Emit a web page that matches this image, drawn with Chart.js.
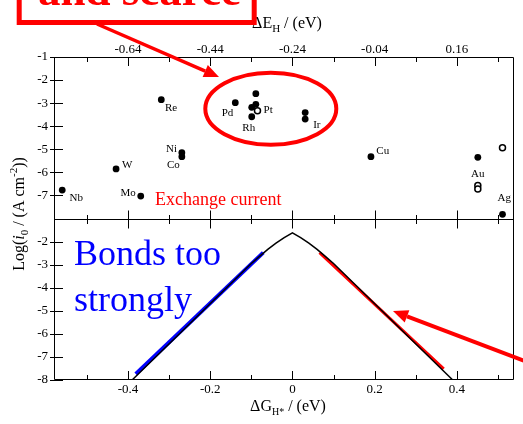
<!DOCTYPE html>
<html><head><meta charset="utf-8">
<script src="https://cdn.jsdelivr.net/npm/chart.js@4.4.1/dist/chart.umd.min.js"></script>
<style>html,body{margin:0;padding:0;background:#fff;}#c{display:block;}</style>
</head><body>
<canvas id="c" width="523" height="424"></canvas>
<script>
// ---- data ----
const metalNames = ['Nb','W','Mo','Re','Ni','Co','Pd','','Pt','','Rh','','Ir','Cu','Au','Ag'];
const filledDE   = [-0.80,-0.669,-0.609,-0.559,-0.509,-0.509,-0.379,-0.329,-0.329,-0.339,-0.339,-0.209,-0.209,-0.049,0.211,0.271];
const filledLogI = [-6.77,-5.85,-7.03,-2.85,-5.15,-5.32,-2.98,-2.59,-3.05,-3.18,-3.59,-3.41,-3.69,-5.32,-5.35,-7.82];
const openDE     = [-0.325,0.211,0.211,0.271];
const openLogI   = [-3.33,-6.57,-6.72,-4.93];
const volcanoDG   = [-0.39,-0.1,-0.08,-0.06,-0.04,-0.02,0,0.02,0.04,0.06,0.08,0.1,0.39];
const volcanoLogI = [-8,-2.95,-2.64,-2.34,-2.07,-1.83,-1.62,-1.83,-2.07,-2.34,-2.64,-2.95,-8];
const strongDG   = [-0.381,-0.071];
const strongLogI = [-7.74,-2.48];
const weakDG     = [0.066,0.368];
const weakLogI   = [-2.48,-7.52];
const topTicks    = [-0.64,-0.44,-0.24,-0.04,0.16];
const topMinor    = [-0.74,-0.54,-0.34,-0.14,0.06,0.26];
const bottomTicks = [-0.4,-0.2,0,0.2,0.4];
const bottomMinor = [-0.5,-0.3,-0.1,0.1,0.3,0.5];
const yTopTicks = [-1,-2,-3,-4,-5,-6,-7];
const yBotTicks = [-2,-3,-4,-5,-6,-7,-8];

const zip = (xs, ys) => xs.map((x,i)=>({x:x, y:ys[i]}));
const SERIF = '"Liberation Serif","Times New Roman",serif';

const labelOffsets = {Nb:[14,7.5],W:[11,-3.5],Mo:[-12.7,-2.7],Re:[9.7,8.3],Ni:[-10.4,-3.7],Co:[-8.4,8.8],
  Pd:[-7.8,10.6],Pt:[12.3,6],Rh:[-3,11.6],Ir:[11.7,6.3],Cu:[11.8,-6],Au:[0,16.4],Ag:[1.7,-16.5]};

function richText(ctx, x, y, parts) {
  let cx = x;
  for (const p of parts) {
    ctx.font = p.font;
    ctx.fillText(p.t, cx, y + (p.dy||0));
    cx += ctx.measureText(p.t).width;
  }
  return cx - x;
}
function richWidth(ctx, parts){ let w=0; for(const p of parts){ctx.font=p.font; w+=ctx.measureText(p.t).width;} return w; }

function arrow(ctx, x1,y1,x2,y2,lw,hl,hw,color){
  const a = Math.atan2(y2-y1,x2-x1);
  const bx = x2 - hl*Math.cos(a), by = y2 - hl*Math.sin(a);
  ctx.save();
  ctx.strokeStyle=color; ctx.fillStyle=color; ctx.lineWidth=lw;
  ctx.beginPath(); ctx.moveTo(x1,y1); ctx.lineTo(bx,by); ctx.stroke();
  ctx.beginPath(); ctx.moveTo(x2,y2);
  ctx.lineTo(bx + hw/2*Math.sin(a), by - hw/2*Math.cos(a));
  ctx.lineTo(bx - hw/2*Math.sin(a), by + hw/2*Math.cos(a));
  ctx.closePath(); ctx.fill();
  ctx.restore();
}

const framePlugin = {
  id: 'frame',
  afterDatasetsDraw(chart) {
    const ctx = chart.ctx, ca = chart.chartArea, s = chart.scales;
    const midY = s.yTop.getPixelForValue(-8);
    ctx.save();
    ctx.strokeStyle = '#000'; ctx.lineWidth = 1;
    ctx.beginPath();
    ctx.rect(ca.left+0.5, ca.top+0.5, ca.right-ca.left-1, ca.bottom-ca.top-1);
    ctx.moveTo(ca.left, Math.round(midY)+0.5); ctx.lineTo(ca.right, Math.round(midY)+0.5);
    ctx.stroke();
    const tick = (px, y0, dir, len) => { ctx.beginPath(); ctx.moveTo(Math.round(px)+0.5, y0); ctx.lineTo(Math.round(px)+0.5, y0+dir*len); ctx.stroke(); };
    const my = Math.round(midY)+0.5;
    topTicks.forEach(v => { const p=s.xTop.getPixelForValue(v); tick(p, ca.top, 1, 9); tick(p, my, -1, 9); });
    topMinor.forEach(v => { const p=s.xTop.getPixelForValue(v); tick(p, ca.top, 1, 5); tick(p, my, -1, 4.5); });
    bottomTicks.forEach(v => { const p=s.x.getPixelForValue(v); tick(p, ca.bottom, -1, 9); tick(p, my, 1, 9); });
    bottomMinor.forEach(v => { const p=s.x.getPixelForValue(v); tick(p, ca.bottom, -1, 5); tick(p, my, 1, 4.5); });
    const ytick = (py) => { ctx.beginPath(); ctx.moveTo(ca.left-4, Math.round(py)+0.5); ctx.lineTo(ca.left+9, Math.round(py)+0.5); ctx.stroke(); };
    yTopTicks.forEach(v => ytick(s.yTop.getPixelForValue(v)));
    yBotTicks.forEach(v => ytick(s.yBot.getPixelForValue(v)));
    ctx.fillStyle = '#000';
    ctx.font = '13px ' + SERIF;
    ctx.textAlign = 'center'; ctx.textBaseline = 'alphabetic';
    topTicks.forEach(v => ctx.fillText(v.toFixed(2), s.xTop.getPixelForValue(v), ca.top - 4));
    bottomTicks.forEach(v => ctx.fillText(v === 0 ? '0' : String(v), s.x.getPixelForValue(v), ca.bottom + 13));
    ctx.textAlign = 'right'; ctx.textBaseline = 'middle';
    yTopTicks.forEach(v => ctx.fillText(String(v), ca.left - 6, s.yTop.getPixelForValue(v)));
    yBotTicks.forEach(v => ctx.fillText(String(v), ca.left - 6, s.yBot.getPixelForValue(v)));
    ctx.textAlign = 'left'; ctx.textBaseline = 'alphabetic';
    const big = '16px ' + SERIF, small = '11px ' + SERIF;
    const topT = [{t:'ΔE',font:big},{t:'H',font:small,dy:4},{t:' / (eV)',font:big}];
    richText(ctx, 287 - richWidth(ctx, topT)/2, 28, topT);
    const botT = [{t:'ΔG',font:big},{t:'H*',font:'10px '+SERIF,dy:4},{t:' / (eV)',font:big}];
    richText(ctx, 288 - richWidth(ctx, botT)/2, 411, botT);
    const yT = [{t:'Log(',font:big},{t:'i',font:'italic 16px '+SERIF},{t:'0',font:small,dy:4},
      {t:' / (A cm',font:big},{t:'-2',font:small,dy:-7},{t:'))',font:big}];
    ctx.save();
    ctx.translate(24, 214); ctx.rotate(-Math.PI/2);
    richText(ctx, -richWidth(ctx, yT)/2, 0, yT);
    ctx.restore();
    ctx.font = '11px ' + SERIF; ctx.textAlign='center'; ctx.textBaseline='middle';
    const meta = chart.getDatasetMeta(0);
    meta.data.forEach((el, i) => {
      const n = metalNames[i]; if (!n) return;
      const o = labelOffsets[n] || [0,0];
      ctx.fillText(n, el.x + o[0], el.y + o[1]);
    });
    ctx.restore();
  },
  afterDraw(chart) {
    const ctx = chart.ctx;
    ctx.save();
    ctx.strokeStyle = '#f00'; ctx.lineWidth = 4;
    ctx.beginPath(); ctx.ellipse(270.8, 108.7, 65.5, 36, 0, 0, Math.PI*2); ctx.stroke();
    ctx.lineWidth = 5;
    ctx.strokeRect(19.2, -20, 235, 42.5);
    ctx.fillStyle = '#f00';
    ctx.font = 'bold 45px ' + SERIF; ctx.textAlign='left'; ctx.textBaseline='alphabetic';
    ctx.fillText('and scarce', 38, 5);
    arrow(ctx, 97, 24, 219, 77, 3.5, 15, 13, '#f00');
    arrow(ctx, 530, 363, 393, 311, 4, 15, 13, '#f00');
    ctx.font = '18px ' + SERIF;
    ctx.fillText('Exchange current', 155, 205);
    ctx.fillStyle = '#00f';
    ctx.font = '36px ' + SERIF;
    ctx.fillText('Bonds too', 74, 265);
    ctx.fillText('strongly', 74, 311);
    ctx.restore();
  }
};

new Chart(document.getElementById('c'), {
  type: 'scatter',
  data: {
    datasets: [
      {data: zip(filledDE, filledLogI), xAxisID:'xTop', yAxisID:'yTop', pointRadius:3.4, pointBackgroundColor:'#000', pointBorderColor:'#000', pointBorderWidth:0, showLine:false},
      {data: zip(openDE, openLogI), xAxisID:'xTop', yAxisID:'yTop', pointRadius:3, pointBackgroundColor:'#fff', pointBorderColor:'#000', pointBorderWidth:1.5, showLine:false},
      {data: zip(volcanoDG, volcanoLogI), xAxisID:'x', yAxisID:'yBot', showLine:true, borderColor:'#000', borderWidth:1.5, pointRadius:0, tension:0},
      {data: zip(strongDG, strongLogI), xAxisID:'x', yAxisID:'yBot', showLine:true, borderColor:'#0000ff', borderWidth:4, pointRadius:0},
      {data: zip(weakDG, weakLogI), xAxisID:'x', yAxisID:'yBot', showLine:true, borderColor:'#ff0000', borderWidth:3, pointRadius:0}
    ]
  },
  options: {
    responsive:false, animation:false, devicePixelRatio:1,
    layout:{padding:{left:54, right:9, top:57, bottom:44}},
    plugins:{legend:{display:false}, tooltip:{enabled:false}},
    scales:{
      xTop:{type:'linear', display:false, min:-0.82, max:0.299},
      x:{type:'linear', display:false, min:-0.58, max:0.539},
      yTop:{type:'linear', display:false, min:-15, max:-1},
      yBot:{type:'linear', display:false, min:-8, max:6}
    }
  },
  plugins:[framePlugin]
});
</script>
</body></html>
